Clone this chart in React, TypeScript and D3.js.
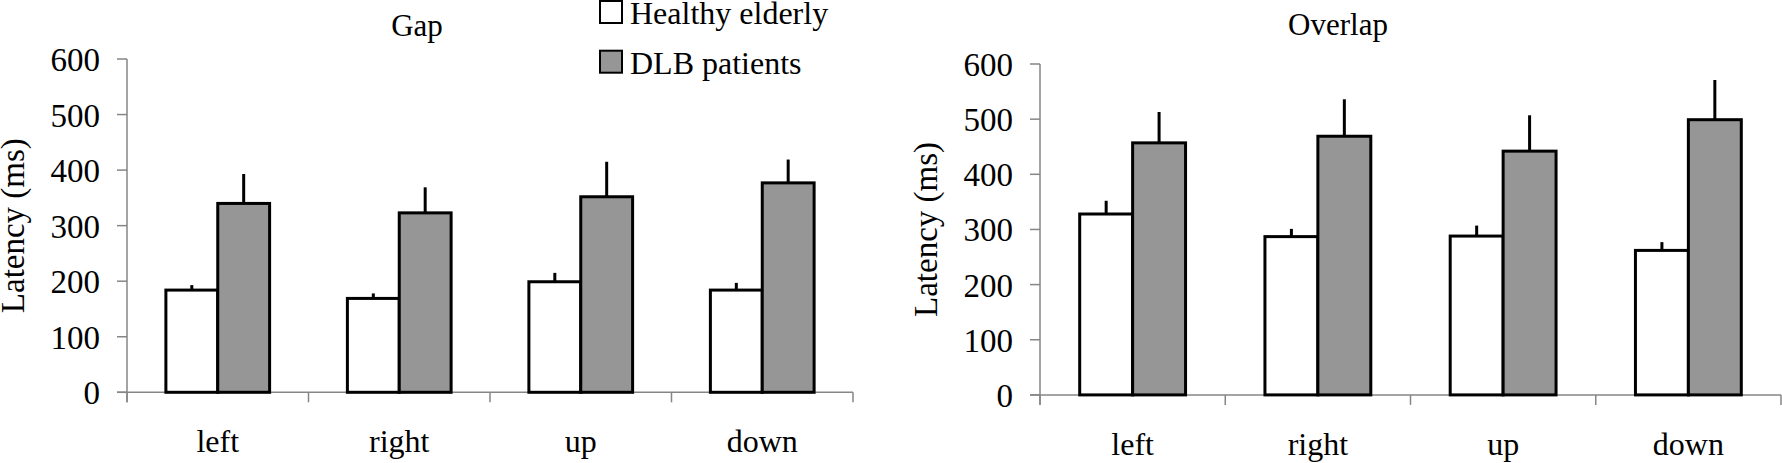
import * as d3 from 'd3';

// Latency data (ms); *Err = upper SEM whisker length
const categories = ['left', 'right', 'up', 'down'];
const seriesKeys = ['healthy', 'dlb'];
const seriesNames = ['Healthy elderly', 'DLB patients'];
const seriesFills = ['#ffffff', '#969696'];
const yTicks = [0, 100, 200, 300, 400, 500, 600];

const gapHealthy = [184, 169, 199, 184];
const gapHealthyErr = [9, 9, 16, 13];
const gapDLB = [340, 323, 352, 377];
const gapDLBErr = [53, 46, 63, 42];

const overlapHealthy = [328, 287, 288, 262];
const overlapHealthyErr = [24, 14, 19, 15];
const overlapDLB = [457, 469, 442, 499];
const overlapDLBErr = [56, 67, 65, 72];

const FONT = '"Liberation Serif", "Times New Roman", serif';
const AXIS = '#868686';

interface Frame {
    left: number;
    right: number;
    top: number;
    bottom: number;
    titleX: number;
    titleY: number;
}

interface PanelProps {
    title: string;
    values: number[][];
    errors: number[][];
    frame: Frame;
}

function Panel({ title, values, errors, frame }: PanelProps) {
    const x = d3.scaleBand<string>()
        .domain(categories)
        .range([frame.left, frame.right])
        .padding(0);

    // Excel style: gap width 150% of a bar
    const inner = d3.scaleBand<string>()
        .domain(seriesKeys)
        .range([0, x.bandwidth()])
        .paddingInner(0)
        .paddingOuter(0.75);

    const y = d3.scaleLinear()
        .domain([0, 600])
        .range([frame.bottom, frame.top]);

    const zero = y(0);
    const boundaries = [...categories.map(c => x(c) || 0), frame.right];

    return (
        <g>
            {/* Title */}
            <text x={frame.titleX} y={frame.titleY} textAnchor="middle"
                fontFamily={FONT} fontSize={31}>{title}</text>

            {/* Y axis */}
            <line x1={frame.left} x2={frame.left} y1={y(600)} y2={zero + 10}
                stroke={AXIS} strokeWidth={1.5} />
            {yTicks.map(t => (
                <g key={t}>
                    <line x1={frame.left - 10} x2={frame.left} y1={y(t)} y2={y(t)}
                        stroke={AXIS} strokeWidth={1.5} />
                    <text x={frame.left - 27} y={y(t) + 12} textAnchor="end"
                        fontFamily={FONT} fontSize={33}>{t}</text>
                </g>
            ))}
            <text
                transform={`translate(${frame.left - 103},${(y(0) + y(600)) / 2}) rotate(-90)`}
                textAnchor="middle" fontFamily={FONT} fontSize={33}>
                Latency (ms)
            </text>

            {/* X axis */}
            <line x1={frame.left - 10} x2={frame.right} y1={zero} y2={zero}
                stroke={AXIS} strokeWidth={1.5} />
            {boundaries.map((b, i) => (
                <line key={i} x1={b} x2={b} y1={zero} y2={zero + 10}
                    stroke={AXIS} strokeWidth={1.5} />
            ))}
            {categories.map(c => (
                <text key={c} x={(x(c) || 0) + x.bandwidth() / 2} y={zero + 60}
                    textAnchor="middle" fontFamily={FONT} fontSize={32}>{c}</text>
            ))}

            {/* Bars + upper error whiskers */}
            {seriesKeys.map((s, si) => categories.map((c, ci) => {
                const bx = (x(c) || 0) + (inner(s) || 0);
                const v = values[si][ci];
                const cx = bx + inner.bandwidth() / 2;
                return (
                    <g key={s + c}>
                        <rect x={bx} y={y(v)} width={inner.bandwidth()} height={zero - y(v)}
                            fill={seriesFills[si]} stroke="#000" strokeWidth={3} />
                        <line x1={cx} x2={cx} y1={y(v)} y2={y(v + errors[si][ci])}
                            stroke="#000" strokeWidth={3} />
                    </g>
                );
            }))}
        </g>
    );
}

export default function App() {
    return (
        <svg width={1782} height={463}
            style={{ position: 'absolute', left: 0, top: 0, background: '#fff' }}>
            <Panel
                title="Gap"
                values={[gapHealthy, gapDLB]}
                errors={[gapHealthyErr, gapDLBErr]}
                frame={{ left: 127, right: 853, top: 59, bottom: 392.3, titleX: 417, titleY: 36 }}
            />
            <Panel
                title="Overlap"
                values={[overlapHealthy, overlapDLB]}
                errors={[overlapHealthyErr, overlapDLBErr]}
                frame={{ left: 1040, right: 1781, top: 64, bottom: 394.9, titleX: 1338, titleY: 35 }}
            />

            {/* Legend */}
            {seriesNames.map((name, i) => (
                <g key={name} transform={`translate(600,${1 + i * 49.7})`}>
                    <rect x={0} y={0} width={22} height={22}
                        fill={seriesFills[i]} stroke="#000" strokeWidth={2} />
                    <text x={30} y={23} fontFamily={FONT} fontSize={32}>{name}</text>
                </g>
            ))}
        </svg>
    );
}
